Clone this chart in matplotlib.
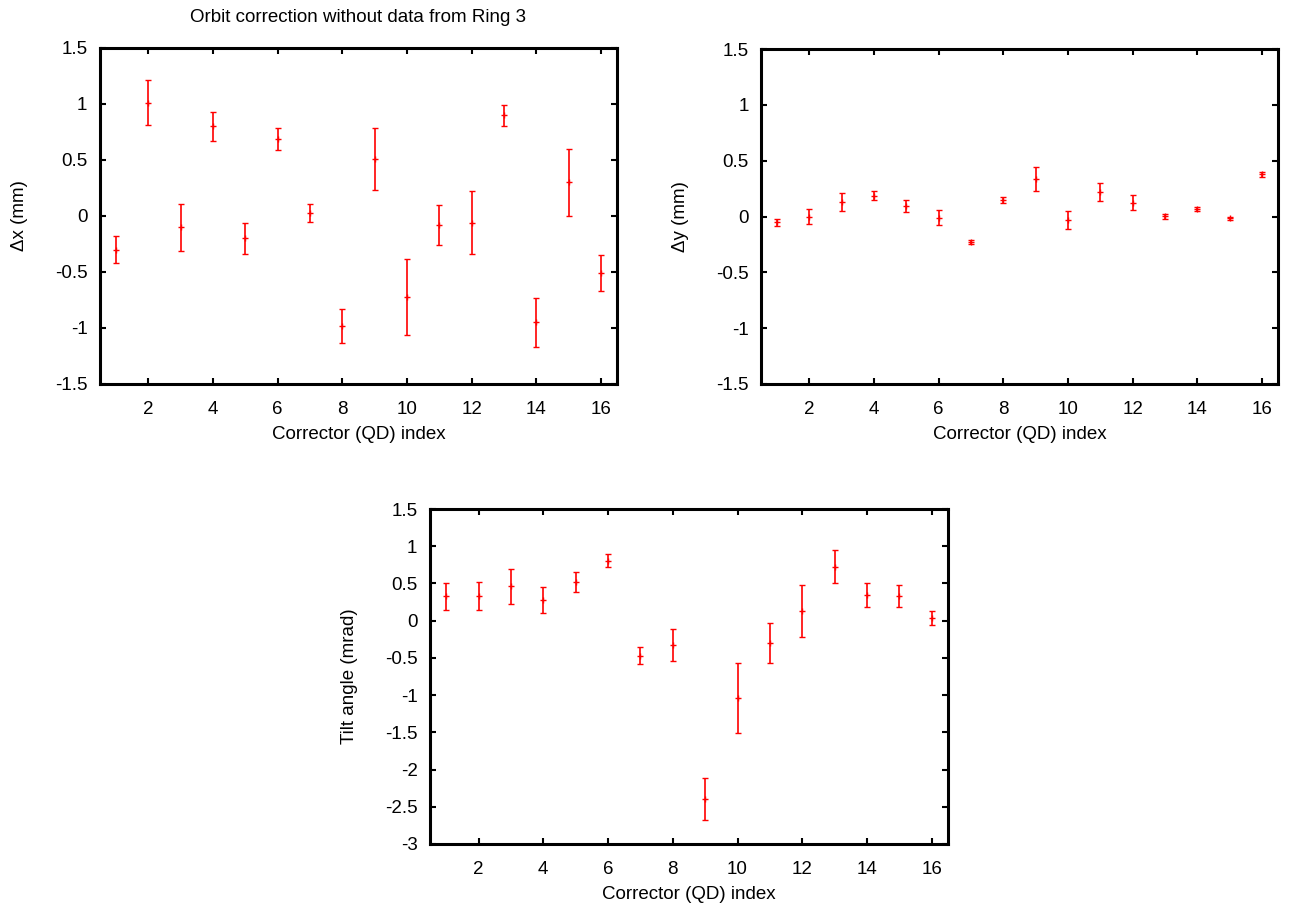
import matplotlib
matplotlib.use("Agg")
import matplotlib.pyplot as plt
import numpy as np

plt.rcParams['font.family'] = ['Liberation Sans', 'DejaVu Sans']

idx = list(range(1, 17))

dx = [-0.30, 1.01, -0.10, 0.80, -0.20, 0.69, 0.03, -0.98, 0.51, -0.72, -0.08, -0.06, 0.90, -0.95, 0.30, -0.51]
dx_err = [0.12, 0.20, 0.21, 0.13, 0.14, 0.10, 0.08, 0.15, 0.28, 0.34, 0.18, 0.28, 0.095, 0.22, 0.30, 0.16]

dy = [-0.053, 0.0, 0.128, 0.187, 0.095, -0.009, -0.228, 0.147, 0.335, -0.03, 0.222, 0.125, 0.003, 0.068, -0.015, 0.38]
dy_err = [0.03, 0.067, 0.079, 0.037, 0.052, 0.065, 0.02, 0.025, 0.108, 0.079, 0.08, 0.068, 0.021, 0.019, 0.015, 0.022]

tilt = [0.33, 0.33, 0.46, 0.28, 0.515, 0.805, -0.47, -0.325, -2.395, -1.035, -0.30, 0.13, 0.725, 0.34, 0.33, 0.035]
tilt_err = [0.18, 0.185, 0.24, 0.178, 0.136, 0.085, 0.11, 0.218, 0.278, 0.47, 0.27, 0.35, 0.225, 0.16, 0.143, 0.096]

xticks = [2, 4, 6, 8, 10, 12, 14, 16]

W, H = 1290, 909
fig = plt.figure(figsize=(W / 100, H / 100), dpi=100)

FS = 13.5

def make_ax(l, t, r, b):
    return fig.add_axes([l / W, 1 - b / H, (r - l) / W, (b - t) / H])

def style(ax, ylim, yticks, ylabel):
    ax.set_xlim(0.5, 16.5)
    ax.set_ylim(*ylim)
    ax.set_xticks(xticks)
    ax.set_yticks(yticks)
    ax.set_yticklabels([('%g' % v) for v in yticks])
    ax.tick_params(direction='in', length=4.5, width=1.5, top=True, right=True,
                   labelsize=FS, colors='black')
    ax.tick_params(axis='y', pad=9)
    ax.tick_params(axis='x', pad=12)
    for s in ax.spines.values():
        s.set_linewidth(2.2)
    ax.set_xlabel('Corrector (QD) index', fontsize=FS, labelpad=6)
    ax.set_ylabel(ylabel, fontsize=FS, labelpad=19)

def draw(ax, y, e):
    ax.errorbar(idx, y, yerr=e, fmt='+', color='#ff0000', ecolor='#ff0000',
                elinewidth=1.2, capsize=2.4, capthick=1.2, markersize=4.5, mew=1.0)

ax1 = make_ax(100, 48, 617, 384)
draw(ax1, dx, dx_err)
style(ax1, (-1.5, 1.5), [-1.5, -1, -0.5, 0, 0.5, 1, 1.5], '\u0394x (mm)')

ax2 = make_ax(761, 49, 1278, 384)
draw(ax2, dy, dy_err)
style(ax2, (-1.5, 1.5), [-1.5, -1, -0.5, 0, 0.5, 1, 1.5], '\u0394y (mm)')

ax3 = make_ax(430, 509, 948, 844)
draw(ax3, tilt, tilt_err)
style(ax3, (-3, 1.5), [-3, -2.5, -2, -1.5, -1, -0.5, 0, 0.5, 1, 1.5], 'Tilt angle (mrad)')

fig.text(358 / W, 1 - 17 / H, 'Orbit correction without data from Ring 3',
         ha='center', va='center', fontsize=FS)

fig.savefig('out.png', dpi=100)
